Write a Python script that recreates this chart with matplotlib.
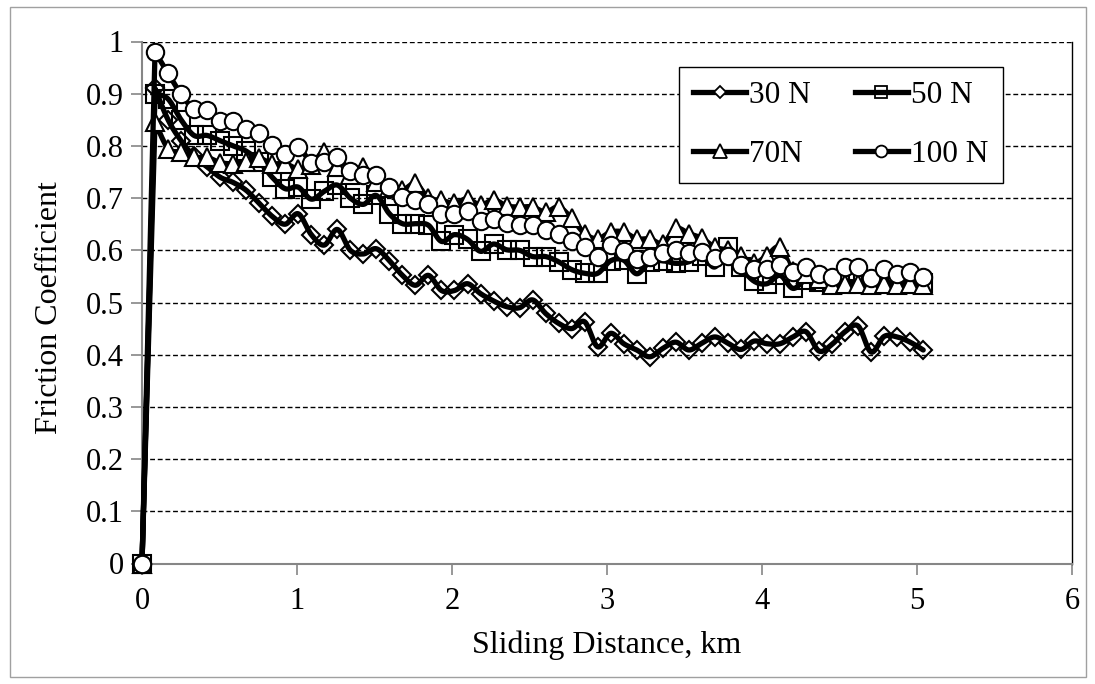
import numpy as np
import matplotlib
matplotlib.use("Agg")
import matplotlib.pyplot as plt
from matplotlib.lines import Line2D
from matplotlib.patches import Rectangle

# =========================
# Data
# =========================
distance_km = [
    0.000, 0.084, 0.168, 0.252, 0.336, 0.420, 0.504, 0.588, 0.672, 0.756,
    0.840, 0.924, 1.008, 1.092, 1.176, 1.260, 1.344, 1.428, 1.512, 1.596,
    1.680, 1.764, 1.848, 1.932, 2.016, 2.100, 2.184, 2.268, 2.352, 2.436,
    2.520, 2.604, 2.688, 2.772, 2.856, 2.940, 3.024, 3.108, 3.192, 3.276,
    3.360, 3.444, 3.528, 3.612, 3.696, 3.780, 3.864, 3.948, 4.032, 4.116,
    4.200, 4.284, 4.368, 4.452, 4.536, 4.620, 4.704, 4.788, 4.872, 4.956,
    5.040,
]

mu_30N = [
    0.000, 0.910, 0.850, 0.810, 0.780, 0.760, 0.740, 0.730, 0.715, 0.690,
    0.665, 0.650, 0.670, 0.630, 0.610, 0.640, 0.600, 0.593, 0.603, 0.580,
    0.552, 0.533, 0.552, 0.523, 0.523, 0.536, 0.517, 0.503, 0.492, 0.490,
    0.505, 0.479, 0.460, 0.450, 0.463, 0.415, 0.441, 0.421, 0.409, 0.396,
    0.412, 0.424, 0.409, 0.422, 0.434, 0.422, 0.410, 0.426, 0.421, 0.421,
    0.434, 0.444, 0.407, 0.420, 0.444, 0.455, 0.405, 0.435, 0.434, 0.424,
    0.409,
]

mu_50N = [
    0.000, 0.900, 0.890, 0.850, 0.820, 0.820, 0.810, 0.800, 0.790, 0.770,
    0.740, 0.718, 0.721, 0.698, 0.713, 0.725, 0.700, 0.688, 0.705, 0.670,
    0.651, 0.651, 0.648, 0.617, 0.630, 0.621, 0.598, 0.612, 0.601, 0.600,
    0.588, 0.588, 0.578, 0.563, 0.556, 0.556, 0.580, 0.581, 0.555, 0.578,
    0.580, 0.575, 0.578, 0.590, 0.568, 0.606, 0.568, 0.541, 0.536, 0.552,
    0.527, 0.544, 0.540, 0.535, 0.540, 0.539, 0.536, 0.540, 0.536, 0.540,
    0.538,
]

mu_70N = [
    0.000, 0.846, 0.795, 0.788, 0.778, 0.778, 0.768, 0.766, 0.770, 0.776,
    0.766, 0.766, 0.756, 0.764, 0.788, 0.760, 0.745, 0.759, 0.730, 0.720,
    0.715, 0.728, 0.700, 0.696, 0.690, 0.699, 0.686, 0.697, 0.685, 0.683,
    0.683, 0.673, 0.683, 0.661, 0.632, 0.622, 0.635, 0.635, 0.622, 0.622,
    0.613, 0.642, 0.632, 0.623, 0.606, 0.600, 0.590, 0.575, 0.590, 0.606,
    0.560, 0.555, 0.545, 0.533, 0.535, 0.535, 0.533, 0.535, 0.533, 0.535,
    0.533,
]

mu_100N = [
    0.000, 0.980, 0.939, 0.899, 0.871, 0.869, 0.847, 0.847, 0.833, 0.825,
    0.801, 0.785, 0.798, 0.768, 0.770, 0.778, 0.752, 0.745, 0.744, 0.722,
    0.702, 0.696, 0.689, 0.670, 0.670, 0.675, 0.657, 0.660, 0.652, 0.648,
    0.649, 0.638, 0.632, 0.618, 0.606, 0.587, 0.611, 0.599, 0.583, 0.587,
    0.594, 0.601, 0.594, 0.597, 0.586, 0.590, 0.571, 0.565, 0.565, 0.571,
    0.558, 0.568, 0.554, 0.549, 0.568, 0.568, 0.546, 0.565, 0.554, 0.558,
    0.549,
]

series_labels = ["30 N", "50 N", "70N", "100 N"]
series_values = [mu_30N, mu_50N, mu_70N, mu_100N]
series_markers = ["D", "s", "^", "o"]
marker_faces = ["none", "none", "white", "white"]
marker_sizes = [9.5, 13, 13, 12.5]
legend_marker_sizes = [6.5, 8, 10, 8.5]

y_ticks = [0, 0.1, 0.2, 0.3, 0.4, 0.5, 0.6, 0.7, 0.8, 0.9, 1]
y_ticklabels = ["0", "0.1", "0.2", "0.3", "0.4", "0.5", "0.6", "0.7", "0.8", "0.9", "1"]
x_ticks = [0, 1, 2, 3, 4, 5, 6]


def smooth_line(x, y, n=12):
    # Excel-style smoothed line: cubic Bezier with Catmull-Rom control points
    x = np.asarray(x, float)
    y = np.asarray(y, float)
    px = np.concatenate([[x[0]], x, [x[-1]]])
    py = np.concatenate([[y[0]], y, [y[-1]]])
    t = np.linspace(0, 1, n, endpoint=False)[:, None]
    b0 = (1 - t) ** 3
    b1 = 3 * (1 - t) ** 2 * t
    b2 = 3 * (1 - t) * t ** 2
    b3 = t ** 3
    p1x, p2x = px[1:-2], px[2:-1]
    p1y, p2y = py[1:-2], py[2:-1]
    c1x = p1x + (px[2:-1] - px[:-3]) / 6
    c1y = p1y + (py[2:-1] - py[:-3]) / 6
    c2x = p2x - (px[3:] - px[1:-2]) / 6
    c2y = p2y - (py[3:] - py[1:-2]) / 6
    sx = (b0 * p1x + b1 * c1x + b2 * c2x + b3 * p2x).T.ravel()
    sy = (b0 * p1y + b1 * c1y + b2 * c2y + b3 * p2y).T.ravel()
    return np.append(sx, x[-1]), np.append(sy, y[-1])


plt.rcParams["font.family"] = ["Liberation Serif", "DejaVu Serif"]
plt.rcParams["font.size"] = 22

fig = plt.figure(figsize=(10.95, 6.84), dpi=100)
ax = fig.add_axes([142 / 1095, 1 - 563.5 / 684, (1072 - 142) / 1095, (563.5 - 41.5) / 684])

for k, (vals, mk, ms, fc) in enumerate(zip(series_values, series_markers,
                                           marker_sizes, marker_faces)):
    # straight rise from the origin point, smoothed curve afterwards
    sx, sy = smooth_line(distance_km[1:], vals[1:])
    sx = np.concatenate([[distance_km[0]], sx])
    sy = np.concatenate([[vals[0]], sy])
    ax.plot(sx, sy, color="black", lw=3.8, solid_capstyle="round",
            solid_joinstyle="round", zorder=3 + 2 * k, clip_on=False)
    ax.plot(distance_km, vals, linestyle="none", marker=mk, markersize=ms,
            markerfacecolor=fc, markeredgecolor="black",
            markeredgewidth=1.5, zorder=4 + 2 * k, clip_on=False)

ax.set_xlim(0, 6)
ax.set_ylim(0, 1)
ax.set_xticks(x_ticks)
ax.set_yticks(y_ticks)
ax.set_yticklabels(y_ticklabels)

ax.grid(axis="y", color="black", linestyle=(0, (3.5, 2)), linewidth=1.0, zorder=1)
ax.set_axisbelow(True)

for side in ["left", "bottom"]:
    ax.spines[side].set_color("#868686")
    ax.spines[side].set_linewidth(1.5)
ax.spines["top"].set_visible(False)
ax.spines["right"].set_color("black")
ax.spines["right"].set_linewidth(1.0)

ax.tick_params(axis="both", direction="out", length=8, width=1.2, color="#868686",
               labelsize=22)
ax.tick_params(axis="y", pad=5)
ax.tick_params(axis="x", pad=9)

ax.set_xlabel("Sliding Distance, km", fontsize=23, va="center")
ax.set_ylabel("Friction Coefficient", fontsize=23, va="center")
ax.xaxis.set_label_coords(0.5, (563.5 - 645) / 522)
ax.yaxis.set_label_coords((50 - 142) / 930, 0.49)

handles = [
    Line2D([], [], color="black", lw=3.8, marker=mk, markersize=ms,
           markerfacecolor=("white" if mk != "s" else "none"),
           markeredgecolor="black", markeredgewidth=1.3)
    for mk, ms in zip(series_markers, legend_marker_sizes)
]
# legend fills column-wise, so reorder to get rows "30 N | 50 N" and "70N | 100 N"
order = [0, 2, 1, 3]
leg = ax.legend([handles[i] for i in order], [series_labels[i] for i in order],
                ncol=2, loc="upper left",
                bbox_to_anchor=(679 / 1095, 1 - 67 / 684),
                bbox_transform=fig.transFigure, borderaxespad=0,
                fontsize=22.5, handlelength=1.7, handletextpad=0.1,
                columnspacing=1.4, labelspacing=0.95, borderpad=0.45,
                fancybox=False, framealpha=1, edgecolor="black")
leg.get_frame().set_linewidth(1.0)
leg.set_zorder(20)

# thin grey border round the whole chart
fig.patches.append(Rectangle((10 / 1095, 7 / 684), (1086 - 10) / 1095, (677 - 7) / 684,
                             transform=fig.transFigure, fill=False,
                             edgecolor="#a0a0a0", linewidth=1.0))

fig.savefig("out.png", dpi=100)
